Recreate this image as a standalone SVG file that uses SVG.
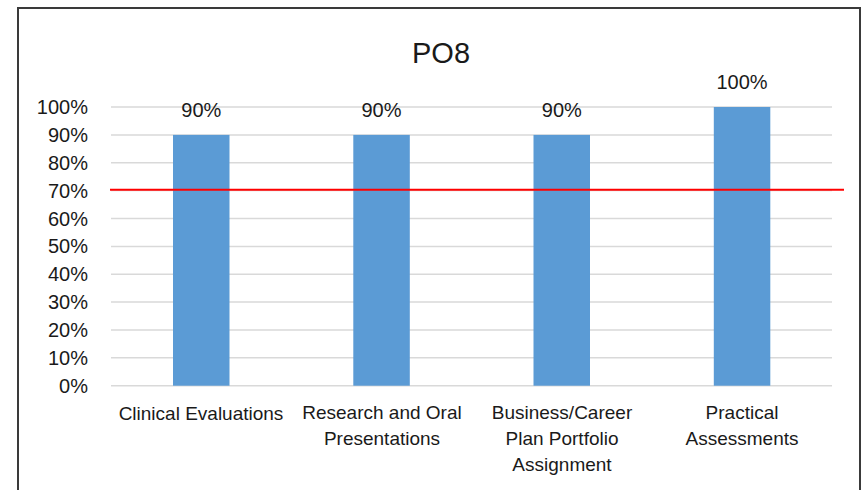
<svg xmlns="http://www.w3.org/2000/svg" width="866" height="490" viewBox="0 0 866 490">
<style>
text{font-family:"Liberation Sans",Arial,sans-serif;fill:#1a1a1a}
.ax{font-size:20px;text-anchor:end}
.lbl{font-size:20px;text-anchor:middle}
.cat{font-size:19px;text-anchor:middle}
.grid line{stroke:#d9d9d9;stroke-width:1.5}
.bar{fill:#5b9bd5}
</style>
<rect x="0" y="0" width="866" height="490" fill="#ffffff"/>
<rect x="18" y="8" width="842" height="500" fill="none" stroke="#3a3a3a" stroke-width="2"/>
<text x="441" y="63" font-size="29" text-anchor="middle">PO8</text>
<g class="grid">
<line x1="111" y1="107" x2="832" y2="107"/>
<line x1="111" y1="134.9" x2="832" y2="134.9"/>
<line x1="111" y1="162.7" x2="832" y2="162.7"/>
<line x1="111" y1="190.6" x2="832" y2="190.6"/>
<line x1="111" y1="218.5" x2="832" y2="218.5"/>
<line x1="111" y1="246.4" x2="832" y2="246.4"/>
<line x1="111" y1="274.2" x2="832" y2="274.2"/>
<line x1="111" y1="302.1" x2="832" y2="302.1"/>
<line x1="111" y1="330" x2="832" y2="330"/>
<line x1="111" y1="357.8" x2="832" y2="357.8"/>
<line x1="111" y1="385.7" x2="832" y2="385.7"/>
</g>
<g id="axis-labels">
<text class="ax" x="88" y="114">100%</text>
<text class="ax" x="88" y="141.9">90%</text>
<text class="ax" x="88" y="169.7">80%</text>
<text class="ax" x="88" y="197.6">70%</text>
<text class="ax" x="88" y="225.5">60%</text>
<text class="ax" x="88" y="253.4">50%</text>
<text class="ax" x="88" y="281.2">40%</text>
<text class="ax" x="88" y="309.1">30%</text>
<text class="ax" x="88" y="337">20%</text>
<text class="ax" x="88" y="364.8">10%</text>
<text class="ax" x="88" y="392.7">0%</text>
</g>
<g id="bar1">
<rect class="bar" x="173" y="134.9" width="56.5" height="250.8"/>
<text class="lbl" x="201.3" y="117">90%</text>
<text class="cat" x="201" y="420">Clinical Evaluations</text>
</g>
<g id="bar2">
<rect class="bar" x="353.3" y="134.9" width="56.5" height="250.8"/>
<text class="lbl" x="381.5" y="117">90%</text>
<text class="cat" x="382" y="419">Research and Oral</text>
<text class="cat" x="382" y="445">Presentations</text>
</g>
<g id="bar3">
<rect class="bar" x="533.5" y="134.9" width="56.5" height="250.8"/>
<text class="lbl" x="561.8" y="117">90%</text>
<text class="cat" x="562" y="419">Business/Career</text>
<text class="cat" x="562" y="445">Plan Portfolio</text>
<text class="cat" x="562" y="471">Assignment</text>
</g>
<g id="bar4">
<rect class="bar" x="713.8" y="107" width="56.5" height="278.7"/>
<text class="lbl" x="742" y="89">100%</text>
<text class="cat" x="742" y="419">Practical</text>
<text class="cat" x="742" y="445">Assessments</text>
</g>
<g id="connectors">
<line x1="110" y1="189.8" x2="844" y2="189.8" stroke="#ff0000" stroke-width="2"/>
</g>
</svg>
